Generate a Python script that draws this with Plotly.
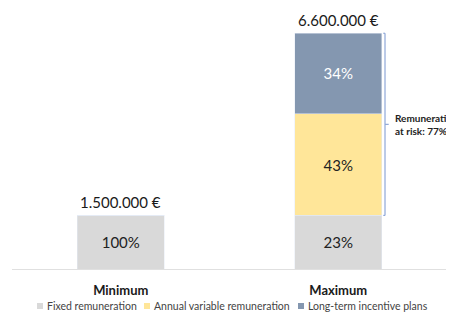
import plotly.graph_objects as go

categories = ["Minimum", "Maximum"]
fixed = [1500000, 1500000]
annual_variable = [0, 2850000]
long_term = [0, 2250000]
fixed_pct = ["100%", "23%"]
annual_pct = ["", "43%"]
long_pct = ["", "34%"]
totals = [1500000, 6600000]
total_labels = ["1.500.000 €", "6.600.000 €"]
series_names = ["Fixed remuneration", "Annual variable remuneration", "Long-term incentive plans"]
series_colors = ["#d9d9d9", "#ffe699", "#8497b0"]
risk_label = "Remuneration<br>at risk: 77%"

FONT = "Lato"
OFF = 8  # page body margin
W, H = 454, 312
L, R, T, B = 12 - OFF, 7 + OFF, 19 - OFF, 43 + OFF
PW, PH = W - L - R, H - T - B


def px(x):
    return (x - OFF - L) / PW


def py(y):
    return (H - B - (y - OFF)) / PH


fig = go.Figure()
for name, vals, txt, col, tcol in zip(series_names, [fixed, annual_variable, long_term],
                                      [fixed_pct, annual_pct, long_pct], series_colors,
                                      ["#222222", "#222222", "#ffffff"]):
    fig.add_trace(go.Bar(name=name, x=categories, y=vals, marker_color=col,
                         text=txt, textposition="inside", insidetextanchor="middle",
                         textfont=dict(color=tcol, size=15, family=FONT), showlegend=False))

for c, t, lab in zip(categories, totals, total_labels):
    fig.add_annotation(x=c, y=t, text=lab, showarrow=False, yanchor="bottom", yshift=2,
                       font=dict(size=15, color="#1a1a1a", family=FONT))

# bracket for remuneration at risk
top = totals[1]
bottom = fixed[1]
mid = (top + bottom) / 2
bc = dict(color="#8fa8d8", width=1.2)
fig.add_shape(type="line", xref="x", yref="y", x0=1.215, x1=1.215, y0=bottom, y1=top, line=bc)
fig.add_shape(type="line", xref="x", yref="y", x0=1.215, x1=1.232, y0=mid, y1=mid, line=bc)
fig.add_shape(type="line", xref="x", yref="y", x0=1.207, x1=1.215, y0=top, y1=top, line=bc)
fig.add_shape(type="line", xref="x", yref="y", x0=1.207, x1=1.215, y0=bottom, y1=bottom, line=bc)
fig.add_annotation(x=1.252, y=mid, xref="x", yref="y", text="<b>" + risk_label + "</b>", showarrow=False,
                   xanchor="left", yanchor="middle", align="left",
                   font=dict(size=10, color="#222222", family=FONT))

# manual legend (single row)
legend_x = [37, 144, 298]
for name, col, lx in zip(series_names, series_colors, legend_x):
    fig.add_shape(type="rect", xref="paper", yref="paper", x0=px(lx), x1=px(lx + 6),
                  y0=py(309), y1=py(303), fillcolor=col, line=dict(width=0))
    fig.add_annotation(xref="paper", yref="paper", x=px(lx + 8), y=py(306), text=name,
                       showarrow=False, xanchor="left", yanchor="middle",
                       font=dict(size=10.5, color="#444444", family=FONT))

fig.update_layout(
    barmode="stack", bargap=0.6,
    width=W, height=H,
    margin=dict(l=L, r=R, t=T, b=B),
    paper_bgcolor="white", plot_bgcolor="white",
    font=dict(family=FONT, color="#222222"),
    showlegend=False,
    xaxis=dict(showline=True, linecolor="#e0e0e0", linewidth=1, showgrid=False,
               range=[-0.5, 1.5], autorange=False,
               tickvals=categories, ticktext=["<b>" + c + "</b>" for c in categories],
               tickfont=dict(size=13, color="#1a1a1a", family=FONT), ticklabelstandoff=9),
    yaxis=dict(visible=False, range=[0, 7000000]),
)
fig.write_html("out.html")
